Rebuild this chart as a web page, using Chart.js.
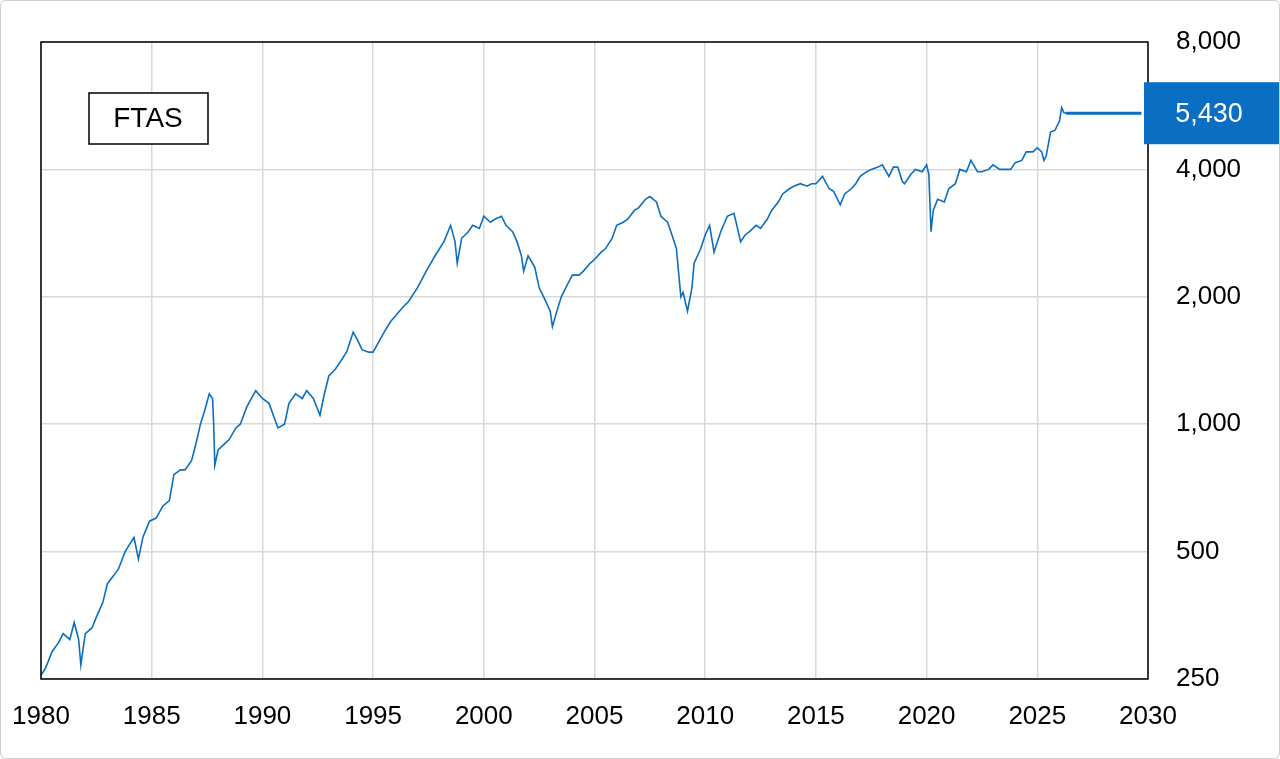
<!DOCTYPE html>
<html><head><meta charset="utf-8">
<script src="https://cdn.jsdelivr.net/npm/chart.js@4"></script>
<style>html,body{margin:0;padding:0;background:#fff}
#wrap{position:relative;width:1280px;height:759px;box-sizing:border-box;border:1px solid #cfcfcf;border-radius:6px;overflow:hidden}
canvas{display:block}</style></head><body>
<div id="wrap"><canvas id="c" width="1278" height="757"></canvas></div>
<script>
const years=[1980.0,1980.2,1980.5,1980.8,1981.0,1981.3,1981.5,1981.7,1981.8,1982.0,1982.3,1982.5,1982.8,1983.0,1983.3,1983.5,1983.8,1984.0,1984.2,1984.4,1984.6,1984.9,1985.2,1985.5,1985.8,1986.0,1986.3,1986.5,1986.8,1987.0,1987.2,1987.4,1987.6,1987.75,1987.8,1987.85,1988.0,1988.3,1988.5,1988.8,1989.0,1989.3,1989.7,1990.0,1990.3,1990.7,1991.0,1991.2,1991.5,1991.8,1992.0,1992.3,1992.6,1992.8,1993.0,1993.3,1993.5,1993.8,1994.1,1994.3,1994.5,1994.8,1995.0,1995.3,1995.5,1995.8,1996.0,1996.3,1996.6,1997.0,1997.4,1997.8,1998.2,1998.5,1998.7,1998.8,1999.0,1999.3,1999.5,1999.8,2000.0,2000.3,2000.5,2000.8,2001.0,2001.3,2001.5,2001.7,2001.8,2002.0,2002.3,2002.5,2002.8,2003.0,2003.1,2003.3,2003.5,2003.8,2004.0,2004.3,2004.5,2004.8,2005.0,2005.3,2005.5,2005.8,2006.0,2006.3,2006.5,2006.8,2007.0,2007.3,2007.5,2007.8,2008.0,2008.3,2008.5,2008.7,2008.9,2009.0,2009.2,2009.4,2009.5,2009.8,2010.0,2010.2,2010.4,2010.7,2011.0,2011.3,2011.6,2011.8,2012.0,2012.3,2012.5,2012.8,2013.0,2013.3,2013.5,2013.8,2014.0,2014.3,2014.6,2014.8,2015.0,2015.3,2015.6,2015.8,2016.1,2016.3,2016.6,2016.8,2017.0,2017.3,2017.5,2017.8,2018.0,2018.3,2018.5,2018.7,2018.9,2019.0,2019.3,2019.5,2019.8,2020.0,2020.1,2020.2,2020.3,2020.5,2020.8,2021.0,2021.3,2021.5,2021.8,2022.0,2022.3,2022.5,2022.8,2023.0,2023.3,2023.5,2023.8,2024.0,2024.3,2024.5,2024.8,2025.0,2025.2,2025.3,2025.4,2025.6,2025.8,2026.0,2026.1,2026.2,2026.3];
const values=[255,265,290,305,320,310,340,310,270,320,330,350,380,420,440,455,500,520,540,480,540,590,600,640,660,760,780,780,820,900,1000,1080,1180,1150,1000,800,870,900,920,980,1000,1100,1200,1150,1120,980,1000,1120,1180,1150,1200,1150,1050,1180,1300,1350,1400,1480,1650,1580,1500,1480,1480,1580,1650,1750,1800,1880,1950,2100,2300,2500,2700,2950,2700,2400,2750,2850,2950,2900,3100,3000,3050,3100,2950,2850,2700,2500,2300,2500,2350,2100,1950,1850,1700,1850,2000,2150,2250,2250,2300,2400,2450,2550,2600,2750,2950,3000,3050,3200,3250,3400,3450,3350,3100,3000,2800,2600,2000,2050,1850,2100,2400,2600,2800,2950,2550,2850,3100,3150,2700,2800,2850,2950,2900,3050,3200,3350,3500,3600,3650,3700,3650,3700,3700,3850,3600,3550,3300,3500,3600,3700,3850,3950,4000,4050,4100,3850,4050,4050,3750,3700,3900,4000,3950,4100,3900,2850,3200,3400,3350,3600,3700,4000,3950,4200,3950,3950,4000,4100,4000,4000,4000,4150,4200,4400,4400,4500,4400,4200,4300,4900,4950,5200,5600,5450,5430];
const yTicks=[250,500,1000,2000,4000,8000];
const xTicks=[1980,1985,1990,1995,2000,2005,2010,2015,2020,2025,2030];
const lastValue=5430, seriesName='FTAS', flatEnd=2029.7;
const blue='#0a6fc2';
const pts=years.map((x,i)=>({x,y:values[i]}));
const flat=[{x:years[years.length-1],y:lastValue},{x:flatEnd,y:lastValue}];
const deco={id:'deco',afterDraw(ch){
 const c=ch.ctx,a=ch.chartArea,y=ch.scales.y.getPixelForValue(lastValue);
 c.save();
 c.strokeStyle='#000';c.lineWidth=1.5;c.strokeRect(a.left,a.top,a.right-a.left,a.bottom-a.top);
 c.fillStyle=blue;c.fillRect(a.right-4,y-31,140,62);
 c.fillStyle='#fff';c.font='27px "Liberation Sans"';c.textAlign='center';c.textBaseline='middle';
 c.fillText('5,430',a.right+61,y+1);
 c.fillStyle='#fff';c.fillRect(88,92,119,51);c.strokeStyle='#000';c.lineWidth=1.5;c.strokeRect(88,92,119,51);
 c.fillStyle='#000';c.font='28px "Liberation Sans"';c.fillText(seriesName,147,118);
 c.restore();}};
new Chart(document.getElementById('c'),{type:'line',
 data:{datasets:[{data:pts,borderColor:blue,borderWidth:1.6,pointRadius:0,tension:0},
  {data:flat,borderColor:blue,borderWidth:3,pointRadius:0}]},
 options:{responsive:false,animation:false,events:[],
  layout:{padding:{left:40,top:41,right:0,bottom:0}},
  plugins:{legend:{display:false},tooltip:{enabled:false}},
  scales:{
   x:{type:'linear',min:1980,max:2030,afterBuildTicks(s){s.ticks=xTicks.map(v=>({value:v}));},
    afterFit(s){s.height=79;s.paddingLeft=0;s.paddingRight=0;},
    grid:{color:'#d9d9d9',lineWidth:1.5,drawTicks:false},border:{display:false},
    ticks:{color:'#000',font:{family:'Liberation Sans',size:26},padding:22,maxRotation:0,callback:v=>String(v)}},
   y:{type:'logarithmic',position:'right',min:250,max:8000,afterBuildTicks(s){s.ticks=yTicks.map(v=>({value:v}));},
    afterFit(s){s.width=131;s.paddingTop=0;s.paddingBottom=0;},
    grid:{color:'#d9d9d9',lineWidth:1.5,drawTicks:false},border:{display:false},
    ticks:{color:'#000',font:{family:'Liberation Sans',size:26},padding:28,callback:v=>v.toLocaleString('en-US')}}}},
 plugins:[deco]});
</script></body></html>
